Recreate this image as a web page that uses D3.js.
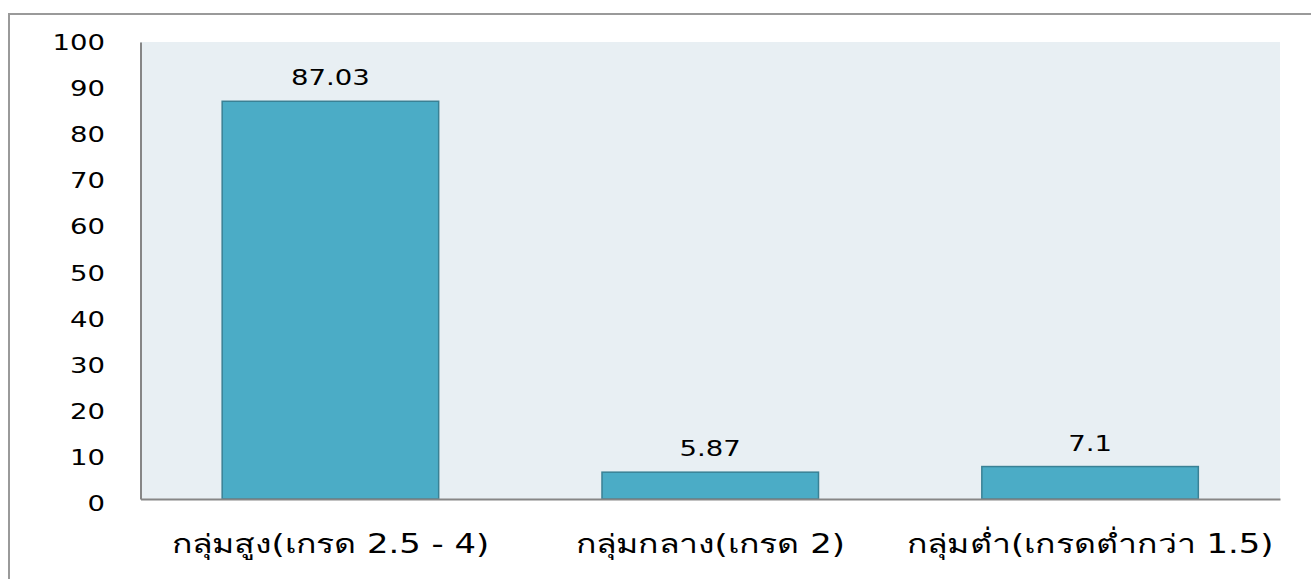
<!DOCTYPE html>
<html><head><meta charset="utf-8">
<script src="https://cdn.jsdelivr.net/npm/d3@7"></script>
<style>
html,body{margin:0;padding:0;background:#fff;overflow:hidden;}
text{font-family:"DejaVu Sans","Noto Sans",sans-serif;fill:#000;}
</style></head>
<body><svg id="c" width="1311" height="579"></svg>
<script>
const categories = ["กลุ่มสูง(เกรด 2.5 - 4)", "กลุ่มกลาง(เกรด 2)", "กลุ่มต่ำ(เกรดต่ำกว่า 1.5)"];
const values = [87.03, 5.87, 7.1];
const valueLabels = ["87.03", "5.87", "7.1"];
const yTicks = [0, 10, 20, 30, 40, 50, 60, 70, 80, 90, 100];

const svg = d3.select("#c");
const SX = 1.28;
const m = {left: 140.5, top: 42, right: 1280, bottom: 499};

// outer frame
svg.append("rect").attr("x", 9).attr("y", 14).attr("width", 1340).attr("height", 620)
  .attr("fill", "none").attr("stroke", "#9a9a9a").attr("stroke-width", 2);

const x = d3.scaleBand().domain(categories).range([m.left, m.right]).paddingInner(0.43).paddingOuter(0.215);
const y = d3.scaleLinear().domain([0, 100]).range([m.bottom, m.top]);

svg.append("rect").attr("x", m.left).attr("y", m.top).attr("width", m.right - m.left).attr("height", m.bottom - m.top)
  .attr("fill", "#E8EFF3");

svg.selectAll("rect.bar").data(values).join("rect").attr("class", "bar")
  .attr("x", (d, i) => x(categories[i]))
  .attr("y", d => y(d))
  .attr("width", x.bandwidth())
  .attr("height", d => y(0) - y(d))
  .attr("fill", "#4BACC6").attr("stroke", "#3A8195").attr("stroke-width", 1.5);

function stretchText(g, tx, ty, txt, anchor, size, sx) {
  return g.append("text").attr("transform", `translate(${tx},${ty}) scale(${sx || SX},1)`)
    .attr("text-anchor", anchor).style("font-size", size + "px").text(txt);
}

// y axis line + labels
const yAxis = d3.axisLeft(y).tickValues(yTicks).tickSize(0).tickFormat("");
const ga = svg.append("g").attr("transform", `translate(${m.left},0)`).call(yAxis);
ga.select(".domain").attr("stroke", "#868686").attr("stroke-width", 2);
yTicks.forEach(t => stretchText(svg, 105, y(t) + 8 + 4 * (1 - t / 100), String(t), "end", 21.5));

// x axis
const xAxis = d3.axisBottom(x).tickSize(0).tickFormat("");
const gx = svg.append("g").attr("transform", `translate(0,${m.bottom})`).call(xAxis);
gx.select(".domain").attr("stroke", "#868686").attr("stroke-width", 2);

categories.forEach((c, i) => stretchText(svg, x(c) + x.bandwidth() / 2, 553, c, "middle", 26, 1.3));
values.forEach((v, i) => stretchText(svg, x(categories[i]) + x.bandwidth() / 2, y(v) - 16, valueLabels[i], "middle", 21.5));
</script></body></html>
